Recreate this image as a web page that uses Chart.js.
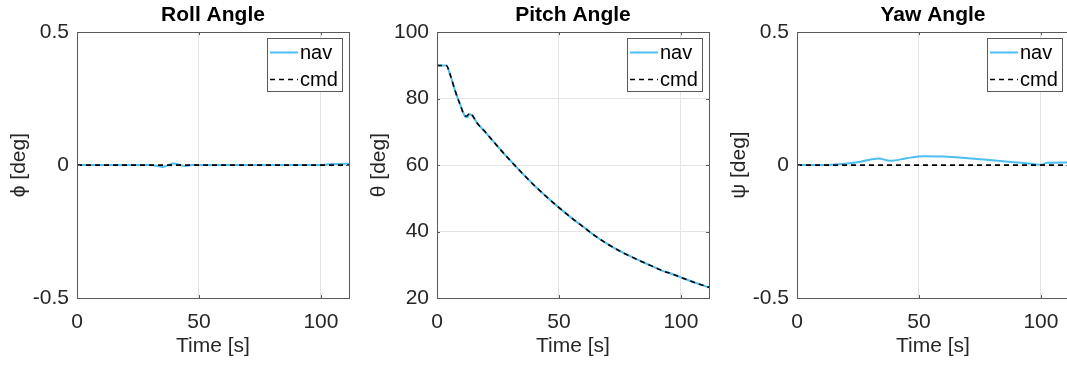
<!DOCTYPE html>
<html>
<head>
<meta charset="utf-8">
<script src="https://cdn.jsdelivr.net/npm/chart.js@4.4.1/dist/chart.umd.min.js"></script>
<style>
  html, body { margin: 0; padding: 0; background: #fff; overflow: hidden; }
  body { width: 1067px; height: 365px; position: relative; }
  canvas { position: absolute; top: 0; }
</style>
</head>
<body>
<canvas id="rollChart" width="360" height="365" style="left:0px"></canvas>
<canvas id="pitchChart" width="360" height="365" style="left:360px"></canvas>
<canvas id="yawChart" width="360" height="365" style="left:720px"></canvas>
<script>
// time axis
const tMax = 111.5;
const timeTicks = [0, 50, 100];

// roll
const rollTime = [0, 30, 33, 35, 37, 39.5, 42, 44.5, 47, 100, 103, 107, 111.5];
const rollNav = [0, 0, -0.003, -0.007, -0.002, 0.006, 0.001, -0.004, 0, 0, 0.003, 0.004, 0.005];
const rollCmdTime = [0, 111.5];
const rollCmd = [0, 0];

// pitch
const pitchTime = [0, 3.8, 5.4, 7.5, 9.5, 11.6, 12.3, 13.3, 14.3, 16.4, 20, 25, 30, 35, 40, 45, 50, 55, 60, 65, 70, 75, 80, 85, 90, 93, 95, 100, 105, 111.5];
const pitchNav = [90, 90, 87.2, 82.2, 78.2, 74.6, 74.4, 75.3, 75.0, 72.7, 69.8, 65.5, 61.4, 57.5, 53.8, 50.4, 47.2, 44.2, 41.4, 38.6, 36.2, 34.1, 32.3, 30.6, 29.0, 28.0, 27.6, 26.2, 24.8, 23.2];
const pitchCmd = [90, 90, 87.2, 82.2, 78.2, 74.8, 74.8, 75.6, 75.2, 72.7, 69.8, 65.5, 61.4, 57.5, 53.8, 50.4, 47.2, 44.2, 41.4, 38.6, 36.2, 34.1, 32.3, 30.6, 29.0, 28.0, 27.6, 26.2, 24.8, 23.2];

// yaw
const yawTime = [0, 10, 19.5, 26, 33.4, 38.2, 45, 52, 60, 70, 80, 90, 97, 100, 102.5, 111.5];
const yawNav = [0, 0, 0.005, 0.013, 0.025, 0.016, 0.026, 0.033, 0.032, 0.026, 0.018, 0.010, 0.004, 0.001, 0.009, 0.010];
const yawCmdTime = [0, 111.5];
const yawCmd = [0, 0];

const navColor = '#4DBEEE';
const textColor = '#262626';
const fontFamily = '"Liberation Sans", Arial, Helvetica, sans-serif';

function toPoints(xs, ys) {
  return xs.map((x, i) => ({ x: x, y: ys[i] }));
}

// box around the axes with small inward ticks, like matlab
const boxPlugin = {
  id: 'axesBox',
  afterDatasetsDraw(chart) {
    const { ctx, chartArea: a, scales } = chart;
    ctx.save();
    ctx.strokeStyle = '#5a5a5a';
    ctx.lineWidth = 1;
    ctx.strokeRect(Math.round(a.left) + 0.5, Math.round(a.top) + 0.5,
      Math.round(a.right - a.left), Math.round(a.bottom - a.top));
    ctx.beginPath();
    scales.x.ticks.forEach(t => {
      const px = Math.round(scales.x.getPixelForValue(t.value)) + 0.5;
      ctx.moveTo(px, a.bottom); ctx.lineTo(px, a.bottom - 3);
      ctx.moveTo(px, a.top); ctx.lineTo(px, a.top + 3);
    });
    scales.y.ticks.forEach(t => {
      const py = Math.round(scales.y.getPixelForValue(t.value)) + 0.5;
      ctx.moveTo(a.left, py); ctx.lineTo(a.left + 3, py);
      ctx.moveTo(a.right, py); ctx.lineTo(a.right - 3, py);
    });
    ctx.stroke();
    ctx.restore();
  }
};

// legend drawn inside the plot, top right
const innerLegend = {
  id: 'innerLegend',
  afterDraw(chart) {
    const { ctx, chartArea: a } = chart;
    const w = 75, h = 53;
    const x0 = Math.round(a.right - 7 - w), y0 = Math.round(a.top + 6);
    ctx.save();
    ctx.fillStyle = '#fff';
    ctx.fillRect(x0, y0, w, h);
    ctx.strokeStyle = '#5a5a5a';
    ctx.lineWidth = 1;
    ctx.strokeRect(x0 + 0.5, y0 + 0.5, w, h);
    ctx.font = '20px ' + fontFamily;
    ctx.textBaseline = 'middle';
    ctx.fillStyle = '#000';
    chart.data.datasets.forEach((ds, i) => {
      const y = y0 + 14.5 + i * 27;
      ctx.beginPath();
      ctx.strokeStyle = ds.borderColor;
      ctx.lineWidth = ds.borderWidth;
      ctx.setLineDash(ds.borderDash || []);
      ctx.moveTo(x0 + 3, y);
      ctx.lineTo(x0 + 31, y);
      ctx.stroke();
      ctx.setLineDash([]);
      ctx.fillText(ds.label, x0 + 33, y + 1);
    });
    ctx.restore();
  }
};

function makeChart(id, title, yLabel, navPts, cmdPts, yMin, yMax, yStep) {
  const ctx = document.getElementById(id).getContext('2d');
  return new Chart(ctx, {
    type: 'line',
    data: {
      datasets: [{
        label: 'nav',
        data: navPts,
        borderColor: navColor,
        borderWidth: 2,
        pointRadius: 0,
        cubicInterpolationMode: 'monotone',
        order: 1
      }, {
        label: 'cmd',
        data: cmdPts,
        borderColor: '#000000',
        borderWidth: 1.6,
        borderDash: [5, 4],
        pointRadius: 0,
        cubicInterpolationMode: 'monotone',
        order: 0
      }]
    },
    options: {
      responsive: false,
      animation: false,
      devicePixelRatio: 1,
      layout: { padding: { left: 0, right: 11, top: 0, bottom: 0 } },
      plugins: {
        legend: { display: false },
        tooltip: { enabled: false },
        title: {
          display: true,
          text: title,
          fullSize: false,
          color: '#000',
          font: { family: fontFamily, size: 21, weight: 'bold', lineHeight: 1.2 },
          padding: { top: 3, bottom: 4 }
        }
      },
      scales: {
        x: {
          type: 'linear',
          min: 0,
          max: tMax,
          afterFit(scale) { scale.height = 67; },
          afterBuildTicks(scale) { scale.ticks = timeTicks.map(v => ({ value: v })); },
          border: { display: false },
          grid: { color: '#e4e4e4', drawTicks: false },
          ticks: {
            color: textColor,
            padding: 12,
            font: { family: fontFamily, size: 21 }
          },
          title: {
            display: true,
            text: 'Time [s]',
            color: textColor,
            padding: { top: 0, bottom: 6 },
            font: { family: fontFamily, size: 21 }
          }
        },
        y: {
          min: yMin,
          max: yMax,
          afterFit(scale) { scale.width = 77; },
          border: { display: false },
          grid: { color: '#e4e4e4', drawTicks: false },
          ticks: {
            stepSize: yStep,
            color: textColor,
            padding: 8,
            font: { family: fontFamily, size: 21 }
          },
          title: {
            display: true,
            text: yLabel,
            color: textColor,
            padding: { top: 7, bottom: 0 },
            font: { family: fontFamily, size: 21 }
          }
        }
      }
    },
    plugins: [boxPlugin, innerLegend]
  });
}

makeChart('rollChart', 'Roll Angle', '\u03D5 [deg]',
  toPoints(rollTime, rollNav), toPoints(rollCmdTime, rollCmd), -0.5, 0.5, 0.5);
makeChart('pitchChart', 'Pitch Angle', '\u03B8 [deg]',
  toPoints(pitchTime, pitchNav), toPoints(pitchTime, pitchCmd), 20, 100, 20);
makeChart('yawChart', 'Yaw Angle', '\u03C8 [deg]',
  toPoints(yawTime, yawNav), toPoints(yawCmdTime, yawCmd), -0.5, 0.5, 0.5);
</script>
</body>
</html>
